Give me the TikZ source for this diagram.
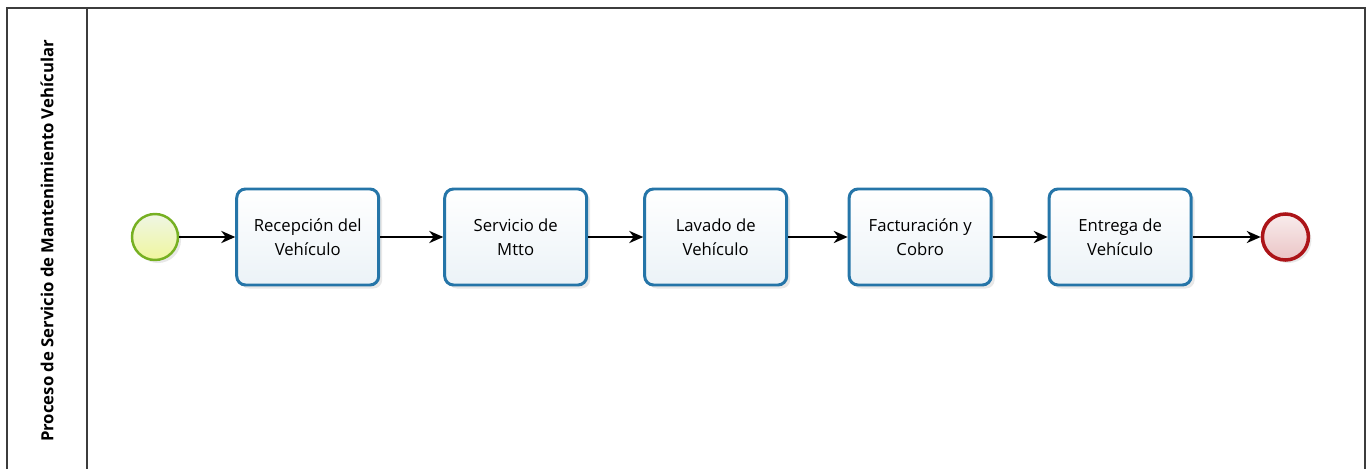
\documentclass[tikz,border=0pt]{standalone}
\usepackage{fontspec}
\setmainfont{Open Sans}
\usepackage{tikz}
\usetikzlibrary{positioning, arrows.meta, shadows}
\definecolor{taskcolor}{RGB}{37, 117, 168}
\definecolor{startcolor}{RGB}{118, 176, 34}
\definecolor{endcolor}{RGB}{172, 20, 24}
\definecolor{poolcolor}{RGB}{60, 60, 60}

\begin{document}
\begin{tikzpicture}[
  >={Stealth[length=8pt, width=7pt]},
  font=\fontsize{9.5}{13.6}\selectfont,
  % --- Styles ---
  task/.style={
    rectangle, rounded corners=5pt, draw=taskcolor, line width=1.7pt,
    top color=white, bottom color=taskcolor!9,
    minimum width=2.84cm, minimum height=1.92cm,
    align=center, inner sep=2pt,
    drop shadow={opacity=0.18, shadow xshift=0.07cm, shadow yshift=-0.07cm}},
  startev/.style={
    circle, draw=startcolor, line width=1.4pt,
    top color=startcolor!12, bottom color=startcolor!28!yellow!40,
    minimum size=0.92cm, inner sep=0pt,
    drop shadow={opacity=0.18, shadow xshift=0.06cm, shadow yshift=-0.06cm}},
  endev/.style={
    circle, draw=endcolor, line width=2pt,
    top color=endcolor!8, bottom color=endcolor!25,
    minimum size=0.92cm, inner sep=0pt,
    drop shadow={opacity=0.18, shadow xshift=0.06cm, shadow yshift=-0.06cm}},
  flow/.style={->, line width=0.8pt, black},
  pool/.style={draw=poolcolor, line width=1.1pt},
]
\useasboundingbox (0,0) rectangle (27.42,-9.38);

% === POOL ===
\draw[pool] (0.14,-9.38) |- (27.30,-0.16) -- (27.30,-9.38);
\draw[pool] (1.74,-0.16) -- (1.74,-9.38);
\node[rotate=90, font=\fontsize{9.5}{11}\selectfont\bfseries] (title)
  at (0.94,-4.82) {Proceso de Servicio de Mantenimiento Veh\'icular};

% === NODES ===
\node[startev] (start) at (3.10,-4.74) {};
\node[task, right=1.12cm of start] (recep) {Recepci\'on del\\Veh\'iculo};
\node[task, right=1.26cm of recep] (mtto) {Servicio de\\Mtto};
\node[task, right=1.10cm of mtto] (lavado) {Lavado de\\Veh\'iculo};
\node[task, right=1.19cm of lavado] (factura) {Facturaci\'on y\\Cobro};
\node[task, right=1.10cm of factura] (entrega) {Entrega de\\Veh\'iculo};
\node[endev, right=1.36cm of entrega] (fin) {};

% === ARROWS ===
\draw[flow] (start) -- (recep);
\draw[flow] (recep) -- (mtto);
\draw[flow] (mtto) -- (lavado);
\draw[flow] (lavado) -- (factura);
\draw[flow] (factura) -- (entrega);
\draw[flow] (entrega) -- (fin);
\end{tikzpicture}
\end{document}
